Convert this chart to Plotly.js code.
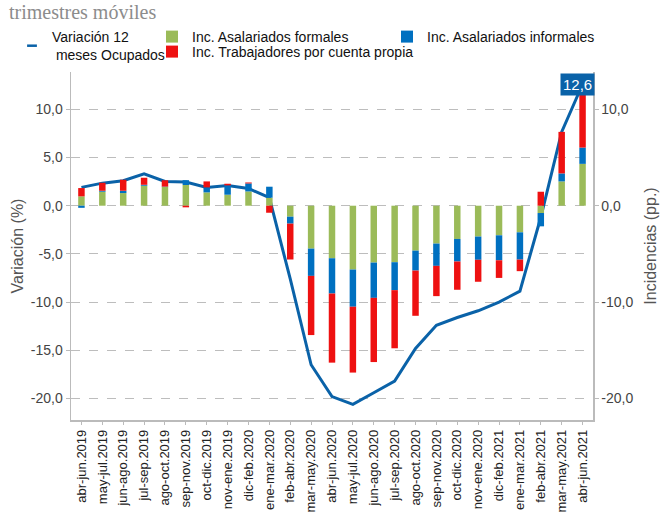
<!DOCTYPE html>
<html>
<head>
<meta charset="utf-8">
<script src="https://cdn.plot.ly/plotly-3.0.1.min.js"></script>
<style>html,body{margin:0;padding:0;background:#fff;}#chart{width:660px;height:512px;}</style>
</head>
<body>
<div id="chart"></div>
<script>
const categories = ['abr-jun.2019','may-jul.2019','jun-ago.2019','jul-sep.2019','ago-oct.2019','sep-nov.2019','oct-dic.2019','nov-ene.2019','dic-feb.2020','ene-mar.2020','feb-abr.2020','mar-may.2020','abr-jun.2020','may-jul.2020','jun-ago.2020','jul-sep.2020','ago-oct.2020','sep-nov.2020','oct-dic.2020','nov-ene.2020','dic-feb.2021','ene-mar.2021','feb-abr.2021','mar-may.2021','abr-jun.2021'];
const formales = [0.97,1.45,1.31,2.07,1.94,2.15,1.38,1.14,1.48,0.83,-1.14,-4.45,-5.45,-6.62,-5.9,-5.86,-4.66,-3.93,-3.45,-3.2,-3.07,-2.76,-0.76,2.52,4.34];
const informales = [-0.22,0.1,0.24,0.1,0.04,0.5,0.52,0.97,0.83,1.14,-0.72,-2.83,-3.66,-3.86,-3.66,-2.9,-2.07,-2.31,-2.34,-2.41,-2.59,-2.83,-1.38,0.83,1.69];
const cuentaPropia = [0.86,0.83,1.14,0.73,0.66,-0.17,0.62,0.17,0.1,-0.73,-3.72,-6.14,-7.17,-6.83,-6.66,-6.03,-4.69,-3.14,-2.93,-2.28,-1.83,-1.2,1.45,4.31,5.62];
const variacion = [1.9,2.34,2.59,3.31,2.52,2.45,1.9,2.1,1.79,0.83,-7.6,-16.5,-19.8,-20.6,-19.4,-18.2,-14.8,-12.4,-11.6,-10.9,-10.0,-8.86,-1.2,7.66,12.6];
const leftTicks = [10,5,0,-5,-10,-15,-20];
const leftTickText = ['10,0','5,0','0,0','-5,0','-10,0','-15,0','-20,0'];
const rightTicks = [10,0,-10,-20];
const rightTickText = ['10,0','0,0','-10,0','-20,0'];
const lastLabel = '12,6';
const lineName = 'Variación 12<br>\u00a0meses Ocupados';

const FONT = 'Liberation Sans, Arial, sans-serif';
const C_LINE = '#0A62A8', C_G = '#9BBB59', C_B = '#0070C0', C_R = '#EE1111';
const yRange = [-22.23, 13.87];

const traces = [
  {type:'bar', x:categories, y:formales, name:'Inc. Asalariados formales', marker:{color:C_G}, yaxis:'y2', legend:'legend2'},
  {type:'bar', x:categories, y:informales, name:'Inc. Asalariados informales', marker:{color:C_B}, yaxis:'y2', legend:'legend3'},
  {type:'bar', x:categories, y:cuentaPropia, name:'Inc. Trabajadores por cuenta propia', marker:{color:C_R}, yaxis:'y2', legend:'legend4'},
  {type:'scatter', mode:'lines', x:categories, y:variacion, name:lineName, line:{color:C_LINE, width:3}, yaxis:'y', showlegend:false},
  // legend key only (short dash like the reference)
  {type:'scatter', mode:'markers', x:[null], y:[null], name:lineName, marker:{symbol:'line-ew-open', size:7, color:C_LINE, line:{color:C_LINE, width:2.5}}, yaxis:'y', legend:'legend', hoverinfo:'skip'}
];

const legBase = {xref:'container', yref:'container', xanchor:'left', yanchor:'top', bgcolor:'rgba(0,0,0,0)', font:{family:FONT, size:14, color:'#111'}, orientation:'h'};

const layout = {
  width:660, height:512,
  margin:{l:71, r:67, t:72, b:92, autoexpand:false},
  paper_bgcolor:'#fff', plot_bgcolor:'#fff',
  separators:',.',
  barmode:'relative', bargap:0.69,
  font:{family:FONT, color:'#444'},
  showlegend:true,
  legend:Object.assign({}, legBase, {x:12/660, y:1-21/512}),
  legend2:Object.assign({}, legBase, {x:152/660, y:1-21/512}),
  legend3:Object.assign({}, legBase, {x:387/660, y:1-21/512}),
  legend4:Object.assign({}, legBase, {x:152/660, y:1-36/512}),
  xaxis:{type:'category', range:[-0.5, 24.5], tickangle:-90, tickfont:{family:FONT, size:13, color:'#222'}, showline:true, linecolor:'#BBBBBB', linewidth:1.5, ticks:'outside', ticklen:3, tickcolor:'#BBBBBB', showgrid:false, zeroline:false},
  yaxis:{range:yRange, tickvals:leftTicks, ticktext:leftTickText, tickfont:{family:FONT, size:14, color:'#444'}, showline:true, linecolor:'#BBBBBB', linewidth:1.5, ticks:'outside', ticklen:4, tickcolor:'#BBBBBB', showgrid:true, gridcolor:'#BDBDBD', griddash:'dash', gridwidth:1, zeroline:false,
    title:{text:'Variación (%)', font:{family:FONT, size:16, color:'#555'}, standoff:3}},
  yaxis2:{range:yRange, overlaying:'y', side:'right', tickvals:rightTicks, ticktext:rightTickText, tickfont:{family:FONT, size:14, color:'#444'}, showline:true, linecolor:'#BBBBBB', linewidth:1.5, ticks:'outside', ticklen:4, tickcolor:'#BBBBBB', showgrid:false, zeroline:false,
    title:{text:'Incidencias (pp.)', font:{family:FONT, size:16, color:'#555'}, standoff:12}},
  annotations:[
    {xref:'x', yref:'y', x:categories[categories.length-1], y:variacion[variacion.length-1], text:lastLabel, showarrow:false, xshift:-5, yshift:0, bgcolor:C_LINE, font:{family:FONT, size:15, color:'#fff'}, borderpad:2},
    {xref:'paper', yref:'paper', x:(7-71)/522, y:(420+1)/348, xanchor:'left', yanchor:'top', text:'trimestres móviles', showarrow:false, font:{family:'Liberation Serif, DejaVu Serif, serif', size:20, color:'#8C8C8C'}}
  ]
};

Plotly.newPlot('chart', traces, layout, {displayModeBar:false, staticPlot:true});
</script>
</body>
</html>
